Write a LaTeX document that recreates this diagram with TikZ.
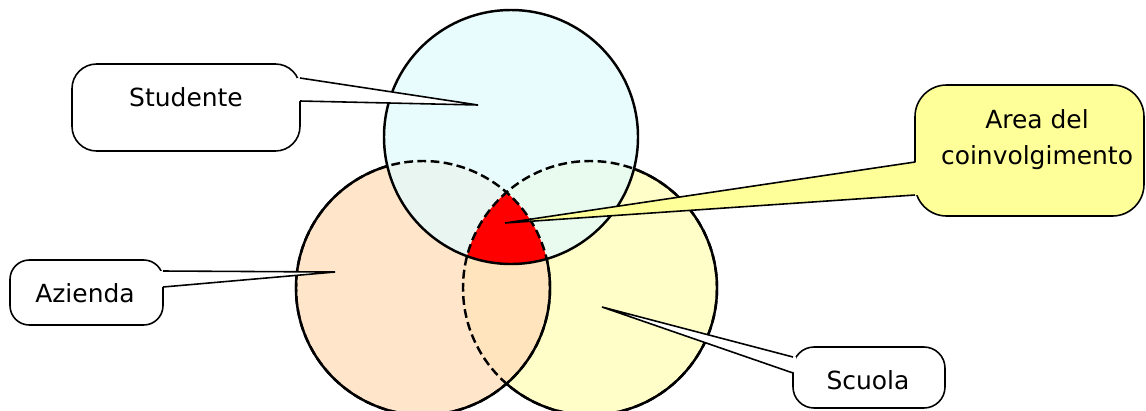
\documentclass[tikz,border=0pt]{standalone}
\usepackage{fontspec}
\setmainfont{DejaVu Sans}
\usepackage{tikz}

\definecolor{studcyan}{RGB}{226,251,253}
\definecolor{azorange}{RGB}{255,222,188}
\definecolor{scyellow}{RGB}{255,253,200}
\definecolor{areayellow}{RGB}{255,255,153}

\begin{document}
\begin{tikzpicture}[x=0.02cm,y=-0.02cm,
    set/.style={line width=1.4pt},
    hidden/.style={set,dash pattern=on 5pt off 2.5pt},
    callbox/.style={draw,line width=0.9pt,fill=white},
    pointer/.style={line width=0.9pt,line join=miter},
    txt/.style={font=\fontsize{14.2}{20.4}\selectfont,align=center}]

  \useasboundingbox (0,0) rectangle (1146,410);

  \def\r{127}
  \coordinate (stu) at (511,137);
  \coordinate (azi) at (423,288);
  \coordinate (scu) at (590,288);

  % the three sets, bottom to top
  \fill[scyellow] (scu) circle (\r);
  \fill[azorange,fill opacity=0.8] (azi) circle (\r);
  \fill[studcyan,fill opacity=0.75] (stu) circle (\r);

  % common part
  \begin{scope}
    \clip (stu) circle (\r);
    \clip (azi) circle (\r);
    \fill[red] (scu) circle (\r);
  \end{scope}

  % outlines: dashed under an upper set, solid elsewhere
  \draw[hidden] (scu) circle (\r);
  \draw[hidden] (azi) circle (\r);
  \begin{scope}
    \clip (-20,-20) -- (-20,440) -- (1170,440) -- (1170,-20) -- cycle
      (stu) circle (\r);
    \draw[set] (azi) circle (\r);
    \clip (-20,-20) -- (-20,440) -- (1170,440) -- (1170,-20) -- cycle
      (azi) circle (\r);
    \draw[set] (scu) circle (\r);
  \end{scope}
  \draw[set] (stu) circle (\r);

  % callouts
  \coordinate (stutip) at (478,105);
  \coordinate (azitip) at (335,272);
  \coordinate (areatip) at (505,223);
  \coordinate (scutip) at (602,307);

  \draw[callbox,rounded corners=14] (72,64) rectangle (300,151);
  \fill[white] (297,78) -- (stutip) -- (297,101) -- cycle;
  \draw[pointer] (300,78) -- (stutip) -- (300,101);
  \node[txt] (studtxt) at (186,97) {Studente};

  \draw[callbox,rounded corners=11] (10,260) rectangle (163,325);
  \fill[white] (160,271) -- (azitip) -- (160,287) -- cycle;
  \draw[pointer] (163,271) -- (azitip) -- (163,287);
  \node[txt] (azitxt) at (85,293) {Azienda};

  \draw[callbox,fill=areayellow,rounded corners=18] (915,85) rectangle (1144,216);
  \fill[areayellow] (918,162) -- (areatip) -- (918,195) -- cycle;
  \draw[pointer] (915,162) -- (areatip) -- (915,195);
  \node[txt] (areatxt) at (1037,140) {Area del\\coinvolgimento};

  \draw[callbox,rounded corners=12] (793,347) rectangle (945,408);
  \fill[white] (796,357) -- (scutip) -- (796,373) -- cycle;
  \draw[pointer] (793,357) -- (scutip) -- (793,373);
  \node[txt] (scutxt) at (868,380) {Scuola};

\end{tikzpicture}
\end{document}
